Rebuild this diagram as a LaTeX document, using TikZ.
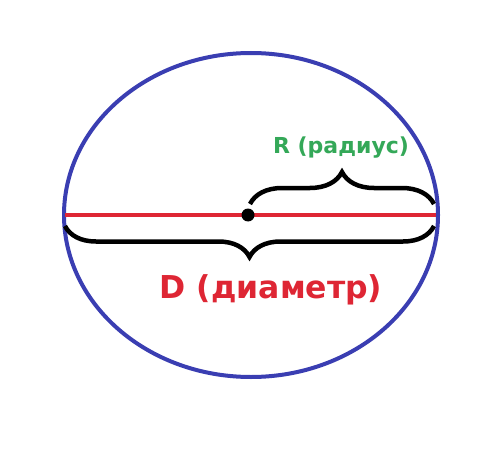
\documentclass[tikz,border=0pt]{standalone}
\usepackage{fontspec}
\setmainfont{DejaVu Sans}
\usetikzlibrary{decorations.pathreplacing}

\definecolor{rimblue}{RGB}{58,62,178}
\definecolor{diamred}{RGB}{222,38,52}
\definecolor{radgreen}{RGB}{52,168,88}

\tikzset{
  curly/.style={draw,line width=4.5pt,decorate,decoration={brace,amplitude=#1}},
  centredot/.style={circle,fill=black,inner sep=0pt,minimum size=13pt},
  labeltext/.style={font=\bfseries,inner sep=0pt}
}

\begin{document}
\begin{tikzpicture}[x=1pt,y=-1pt]
\useasboundingbox (0,0) rectangle (500,449);
\begin{scope}
\path (251,215) coordinate (C);
\path (65,215) coordinate (A);
\path (436,215) coordinate (B);
\path (250,204) coordinate (R1);
\path (434,204) coordinate (R2);
\path (434,226) coordinate (D1);
\path (65,226) coordinate (D2);

\draw [rimblue,line width=4pt] (C) ellipse (187pt and 162pt);
\draw [diamred,line width=3.5pt] (A) -- (B);
\node [centredot] (O) at (248,215) {};

\draw [curly=32pt] (R1) -- (R2);
\draw [curly=31pt] (D1) -- (D2);

\node [labeltext,text=radgreen,font=\bfseries\fontsize{22}{26}\selectfont] (Rlab) at (341,148) {R (радиус)};
\node [labeltext,text=diamred,font=\bfseries\fontsize{31.5}{36}\selectfont] (Dlab) at (271,290) {D (диаметр)};
\end{scope}
\end{tikzpicture}
\end{document}
